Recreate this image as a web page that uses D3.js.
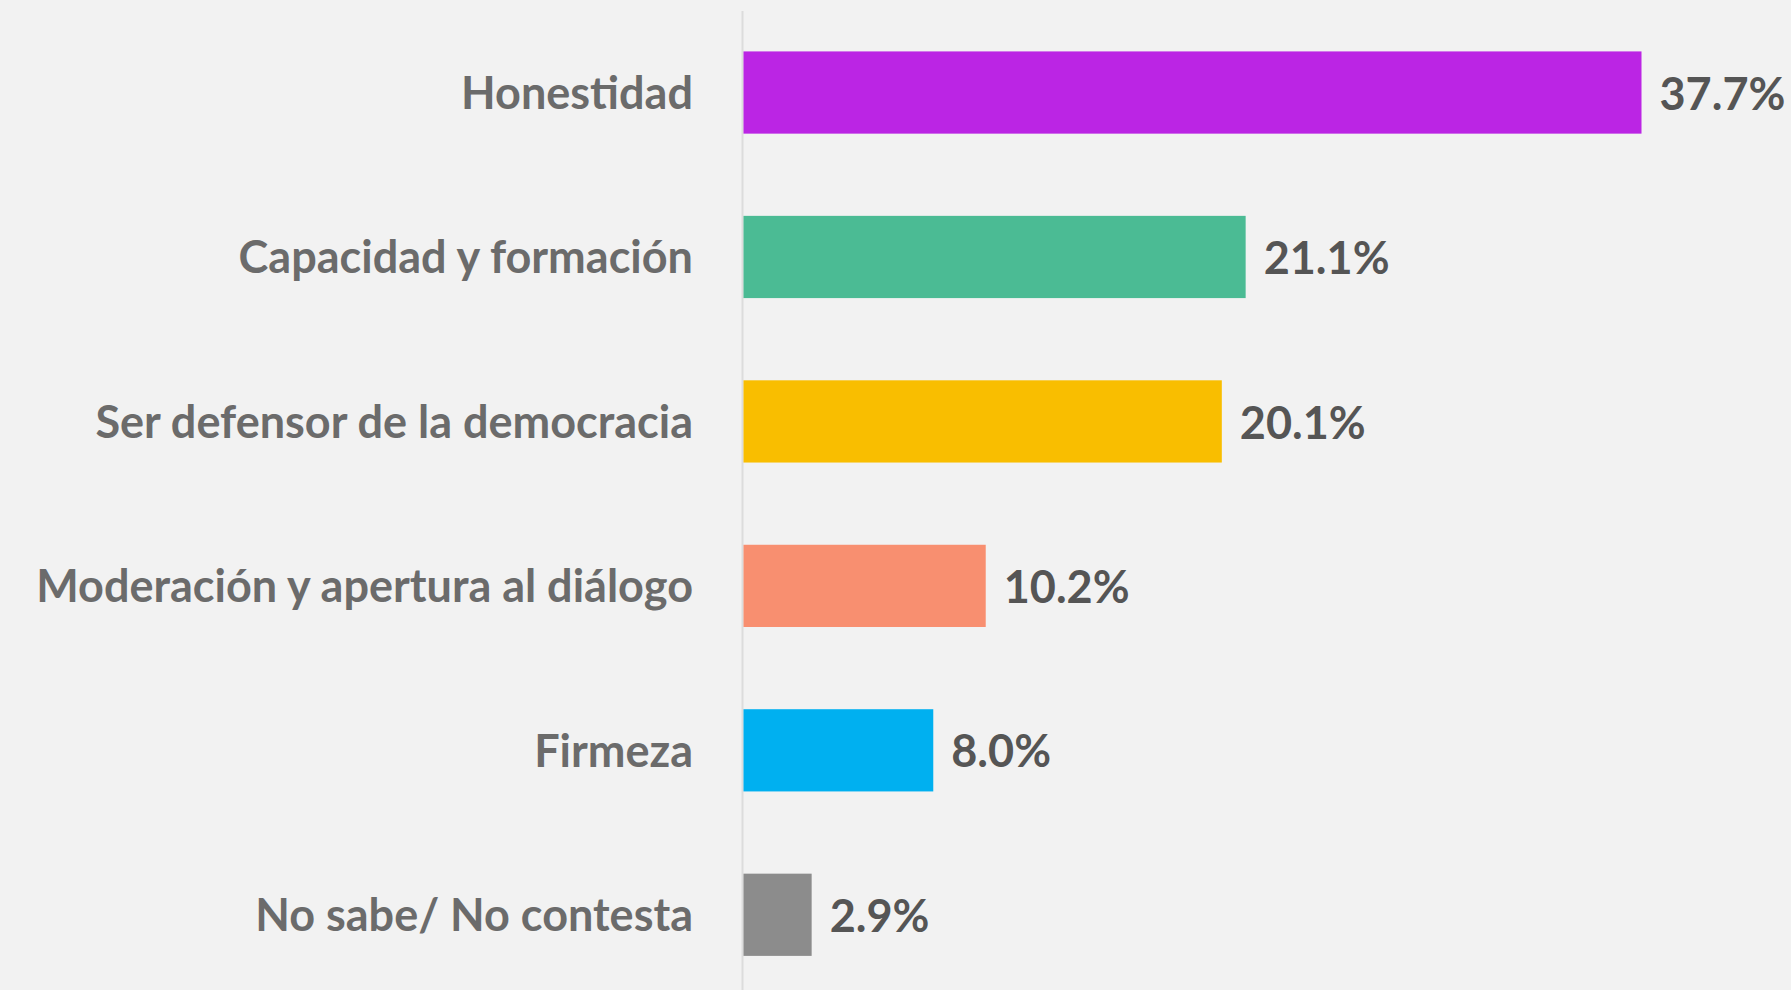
<!DOCTYPE html>
<html lang="es">
<head>
    <meta charset="UTF-8">
    <title>Atributos</title>
    <style>
        html, body { margin: 0; padding: 0; background: #f2f2f2; }
        .chart-svg text { font-family: Lato, "Open Sans", sans-serif; font-weight: 700; }
    </style>
</head>
<body>
    <svg class="chart-svg" width="1791" height="990"></svg>
    <script src="https://d3js.org/d3.v7.min.js"></script>
    <script>
        // Data
        var categories = [
            "Honestidad",
            "Capacidad y formación",
            "Ser defensor de la democracia",
            "Moderación y apertura al diálogo",
            "Firmeza",
            "No sabe/ No contesta"
        ];
        var values = [37.7, 21.1, 20.1, 10.2, 8.0, 2.9];
        var colors = ["#bb25e4", "#4bbb94", "#f9be00", "#f88f70", "#00b0f0", "#8c8c8c"];

        var data = categories.map(function (c, i) {
            return { cat: c, val: values[i], color: colors[i] };
        });

        var svg = d3.select(".chart-svg");

        var x0 = 742.5;
        var xScale = d3.scaleLinear()
            .domain([0, 37.7])
            .range([x0, 1641.5]);

        var yScale = d3.scaleBand()
            .domain(categories)
            .range([10.3, 997])
            .paddingInner(0.5)
            .paddingOuter(0.25);

        // vertical axis line
        svg.append("line")
            .attr("x1", x0).attr("x2", x0)
            .attr("y1", 11).attr("y2", 990)
            .attr("stroke", "#dcdcdc")
            .attr("stroke-width", 2);

        // bars
        svg.selectAll("rect.bar")
            .data(data)
            .enter()
            .append("rect")
            .attr("class", "bar")
            .attr("x", xScale(0) + 1)
            .attr("y", d => yScale(d.cat))
            .attr("width", d => xScale(d.val) - xScale(0) - 1)
            .attr("height", yScale.bandwidth())
            .attr("fill", d => d.color);

        // category labels
        svg.selectAll("text.cat")
            .data(data)
            .enter()
            .append("text")
            .attr("class", "cat")
            .attr("x", 693)
            .attr("y", d => yScale(d.cat) + yScale.bandwidth() / 2)
            .attr("dy", "0.36em")
            .attr("text-anchor", "end")
            .attr("font-size", 45)
            .attr("fill", "#6b6b6b")
            .text(d => d.cat);

        // value labels
        svg.selectAll("text.val")
            .data(data)
            .enter()
            .append("text")
            .attr("class", "val")
            .attr("x", d => xScale(d.val) + 18)
            .attr("y", d => yScale(d.cat) + yScale.bandwidth() / 2)
            .attr("dy", "0.38em")
            .attr("font-size", 45)
            .attr("fill", "#555555")
            .text(d => d.val.toFixed(1) + "%");
    </script>
</body>
</html>
